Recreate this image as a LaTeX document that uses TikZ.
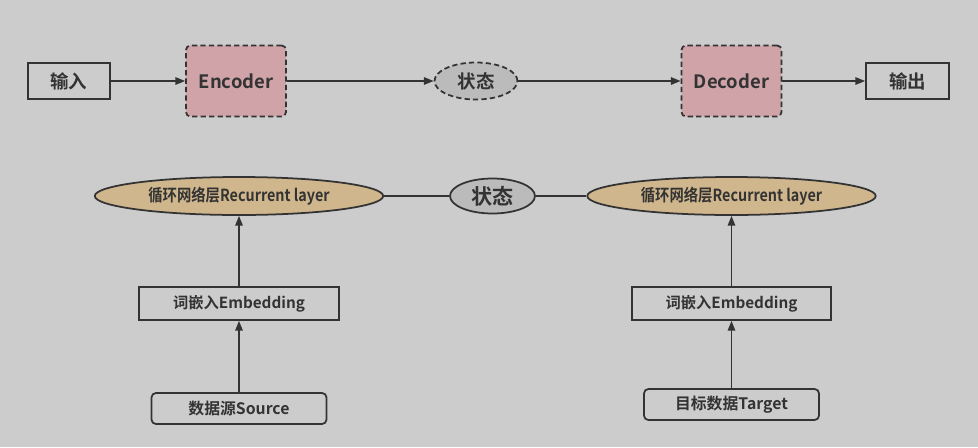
\documentclass[tikz,border=0pt]{standalone}
\usepackage{fontspec}
\setmainfont{Noto Sans CJK SC}[BoldFont={Noto Sans CJK SC Bold}]
\newfontfamily\narrowfont{Noto Sans CJK SC Bold}[FakeStretch=0.86]
\usetikzlibrary{arrows.meta,shapes.geometric}
\definecolor{bgcol}{HTML}{CCCCCC}
\definecolor{inkcol}{HTML}{333333}
\definecolor{coderfill}{HTML}{CFA3A8}
\definecolor{statefill}{HTML}{BBBBBB}
\definecolor{layerfill}{HTML}{D0B68C}
\tikzset{
 plainbox/.style={draw=inkcol,line width=1pt,inner sep=0pt,text=inkcol,font=\bfseries\fontsize{10.5}{12}\selectfont},
 coderbox/.style={plainbox,rounded corners=2.5pt,dash pattern=on 3pt off 1.8pt,fill=coderfill,minimum width=2cm,minimum height=1.42cm},
 stateoval/.style={plainbox,ellipse,fill=statefill},
 layeroval/.style={plainbox,ellipse,fill=layerfill,minimum width=5.77cm,minimum height=0.76cm,font=\narrowfont\fontsize{9.5}{11}\selectfont},
 embbox/.style={plainbox,minimum width=3.99cm,minimum height=0.66cm,font=\bfseries\fontsize{8.7}{11}\selectfont},
 databox/.style={plainbox,rounded corners=2.5pt,minimum width=3.5cm,minimum height=0.62cm,font=\bfseries\fontsize{9}{11}\selectfont},
 flow/.style={draw=inkcol,line width=0.9pt,-{Triangle[length=5.5pt,width=4.2pt]}}
}
\begin{document}
\begin{tikzpicture}[x=0.02cm,y=-0.02cm]
 \fill[bgcol] (0,0) rectangle (978,447);
 \useasboundingbox (0,0) rectangle (978,447);
 \node[plainbox,minimum width=1.64cm,minimum height=0.72cm] (in) at (69,81) {输入};
 \node[coderbox] (enc) at (236,81) {Encoder};
 \node[stateoval,dash pattern=on 3pt off 1.8pt,minimum width=1.66cm,minimum height=0.74cm] (st1) at (476,81) {状态};
 \node[coderbox] (dec) at (731.5,81) {Decoder};
 \node[plainbox,minimum width=1.66cm,minimum height=0.72cm] (out) at (907.5,81) {输出};
 \draw[flow] (in) -- (enc);
 \draw[flow] (enc) -- (st1);
 \draw[flow] (st1) -- (dec);
 \draw[flow] (dec) -- (out);
 \node[layeroval] (rl1) at (239,196) {循环网络层Recurrent layer};
 \node[stateoval,minimum width=1.7cm,minimum height=0.7cm,font=\bfseries\fontsize{12}{14}\selectfont] (st2) at (492.5,196) {状态};
 \node[layeroval] (rl2) at (731.5,196) {循环网络层Recurrent layer};
 \draw[draw=inkcol,line width=0.9pt] (rl1) -- (st2) -- (rl2);
 \node[embbox] (emb1) at (239,303.5) {词嵌入Embedding};
 \node[databox] (src) at (239,408.5) {数据源Source};
 \node[embbox] (emb2) at (731.5,303.5) {词嵌入Embedding};
 \node[databox] (tgt) at (731.5,404.5) {目标数据Target};
 \draw[flow] (src) -- (emb1);
 \draw[flow] (emb1) -- (rl1);
 \draw[flow] (tgt) -- (emb2);
 \draw[flow] (emb2) -- (rl2);
\end{tikzpicture}
\end{document}
